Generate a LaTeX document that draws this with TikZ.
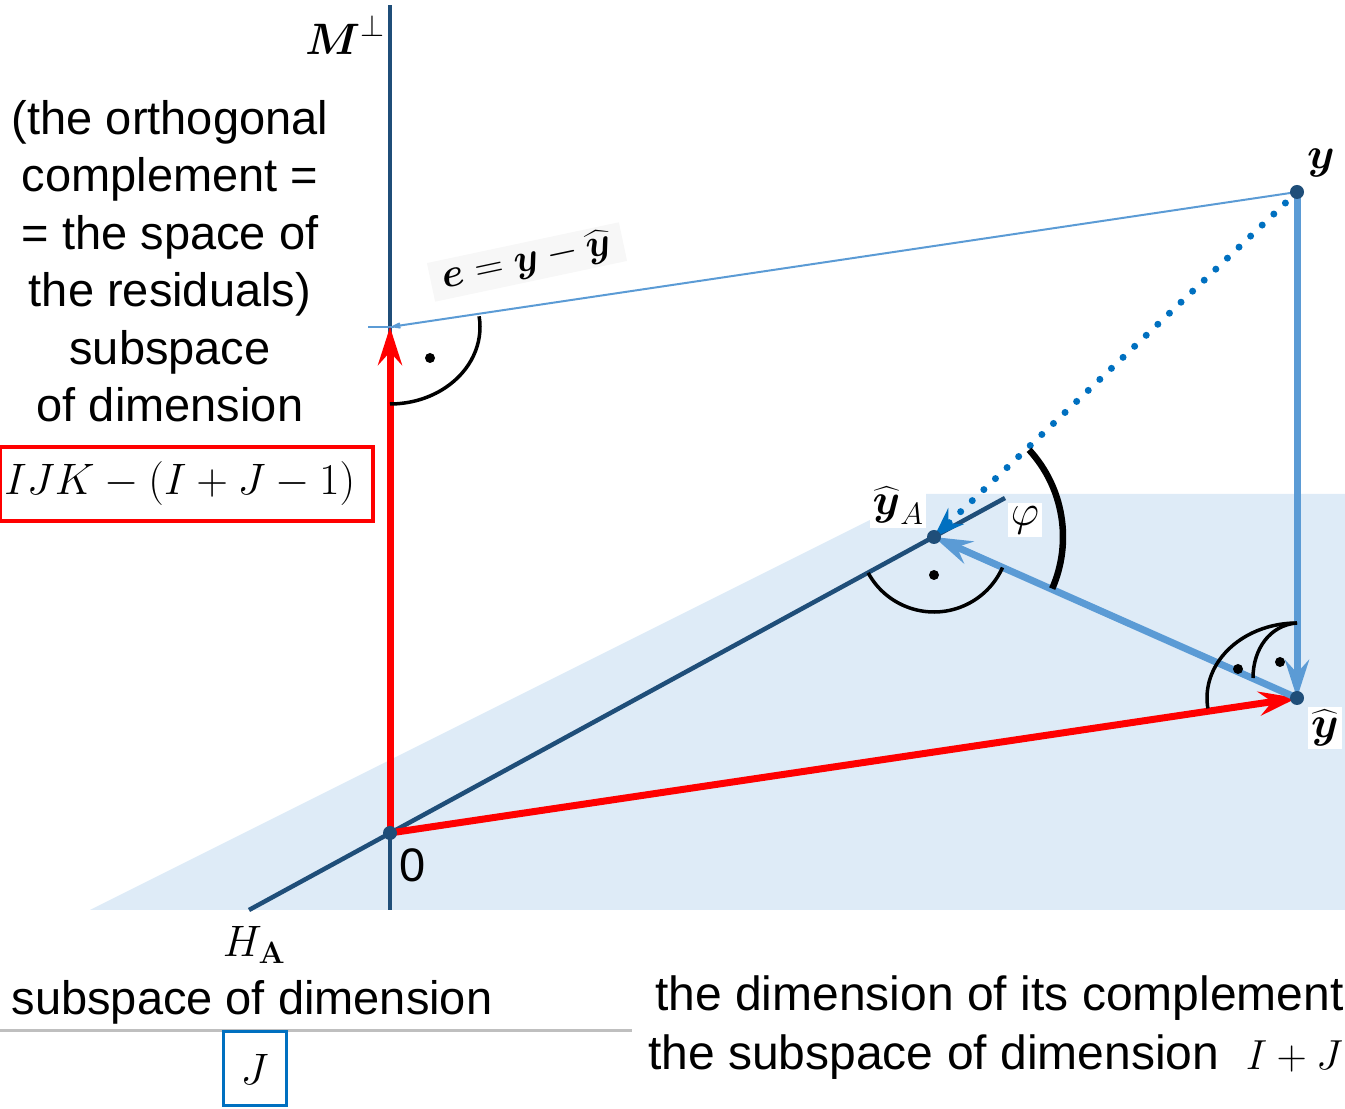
\RequirePackage{fix-cm}
\documentclass[tikz,border=0pt]{standalone}
\usepackage{amsmath}
\usepackage[no-math]{fontspec}
\setmainfont{Liberation Sans}
\usetikzlibrary{arrows.meta}
\definecolor{axisblue}{RGB}{31,78,121}
\definecolor{planeblue}{RGB}{222,235,247}
\definecolor{vecblue}{RGB}{91,155,213}
\definecolor{dotblue}{RGB}{0,112,192}
\definecolor{rulegray}{RGB}{191,191,191}

\begin{document}
\begin{tikzpicture}[x=1pt,y=1pt,
  txt/.style={font=\fontsize{47}{57.5}\selectfont, inner sep=0pt},
  lbl/.style={font=\fontsize{44}{50}\selectfont, inner sep=3pt},
  redvec/.style={red, line width=7pt, -{Stealth[length=38pt, width=24pt, inset=13pt]}},
  bluevec/.style={vecblue, line width=7pt, -{Stealth[length=38pt, width=24pt, inset=13pt]}},
  angarc/.style={black, line width=3.5pt}]
\useasboundingbox (0,0) rectangle (1345,1109);
\fill[planeblue] (90,199) -- (1345,199) -- (1345,615) -- (922,615) -- cycle;
\coordinate (O) at (390,276);
\coordinate (E) at (390,782);
\coordinate (Y) at (1297,917);
\coordinate (Yh) at (1297,411);
\coordinate (YA) at (934,572);
\coordinate (Mtop) at (390,1104);
\coordinate (Mbot) at (390,199);
\coordinate (Hbot) at (249,199);
\coordinate (Htop) at (1005,611);
\draw[axisblue, line width=4.5pt] (Mbot) -- (Mtop);
\draw[axisblue, line width=4.5pt] (Hbot) -- (Htop);
\draw[vecblue, line width=2pt] ([xshift=-22pt]E) -- ([xshift=4pt]E);
\draw[vecblue, line width=2pt, -{Stealth[length=24pt, width=15pt, inset=16pt]}] (Y) -- (E);
\draw[redvec] (O) -- (E);
\draw[redvec] (O) -- (Yh);
\draw[bluevec] (Y) -- (Yh);
\draw[bluevec] (Yh) -- (YA);
\draw[dotblue, line width=7pt, line cap=round, dash pattern=on 0pt off 16pt, -{Stealth[length=30pt, width=22pt, inset=10pt]}] (Y) -- (YA);
\draw[angarc] ([shift={(8:90 and 77)}]E) arc[start angle=8, end angle=-90, x radius=90, y radius=77];
\draw[angarc] ([shift={(208.6:75)}]YA) arc[start angle=208.6, end angle=336, radius=75];
\draw[black, line width=6.5pt] ([shift={(-23.6:129)}]YA) arc[start angle=-23.6, end angle=42.5, radius=129];
\draw[angarc] ([shift={(90:90 and 75)}]Yh) arc[start angle=90, end angle=188, x radius=90, y radius=75];
\draw[angarc] ([yshift=75pt]Yh) .. controls +(-27,-2) and +(0,29) .. ([shift={(-44,20)}]Yh);
\fill[black] (430,751) circle (5);
\fill[black] (934,534) circle (5);
\fill[black] (1238,440) circle (5);
\fill[black] (1280,447) circle (5);
\foreach \p in {O,Y,Yh,YA} \fill[axisblue] (\p) circle (7);
\draw[rulegray, line width=3pt] (0,78) -- (632,78);
\node[lbl] (mlab) at (345,1074) {$\boldsymbol{M}^{\perp}$};
\node[txt, align=center] (mtext) at (170,848) {(the orthogonal\\complement =\\= the space of\\the residuals)\\subspace\\of dimension};
\node[draw=red, line width=4pt, text width=363pt, inner xsep=5pt, minimum height=74pt, align=left, font=\fontsize{44}{50}\selectfont] (dimres) at (186,625) {$IJK-(I+J-1)$};
\node[lbl, rotate=12, fill=black!3, inner xsep=12pt, font=\fontsize{40}{44}\selectfont] (elab) at (527,847) {$\boldsymbol{e}=\boldsymbol{y}-\widehat{\boldsymbol{y}}$};
\node[lbl] (ylab) at (1321,946) {$\boldsymbol{y}$};
\node[lbl, fill=white] (yhlab) at (1325,381) {$\widehat{\boldsymbol{y}}$};
\node[lbl, fill=white] (yalab) at (898,603) {$\widehat{\boldsymbol{y}}_A$};
\node[lbl, fill=white] (philab) at (1025,589) {$\varphi$};
\node[txt] (zero) at (413,244) {0};
\node[lbl] (hlab) at (254,164) {$H_{\mathbf{A}}$};
\node[txt] (hsub) at (252,107) {subspace of dimension};
\node[draw=dotblue, line width=3pt, minimum width=63pt, minimum height=74pt, font=\fontsize{44}{50}\selectfont] (dimJ) at (254.5,40) {$J$};
\node[txt, anchor=west, font=\fontsize{48}{57.5}\selectfont] (cdim) at (655,111) {the dimension of its complement};
\node[txt, anchor=west, font=\fontsize{48}{57.5}\selectfont] (sdim) at (648,52) {the subspace of dimension\ \ \fontsize{42}{50}\selectfont$I+J$};
\end{tikzpicture}
\end{document}
